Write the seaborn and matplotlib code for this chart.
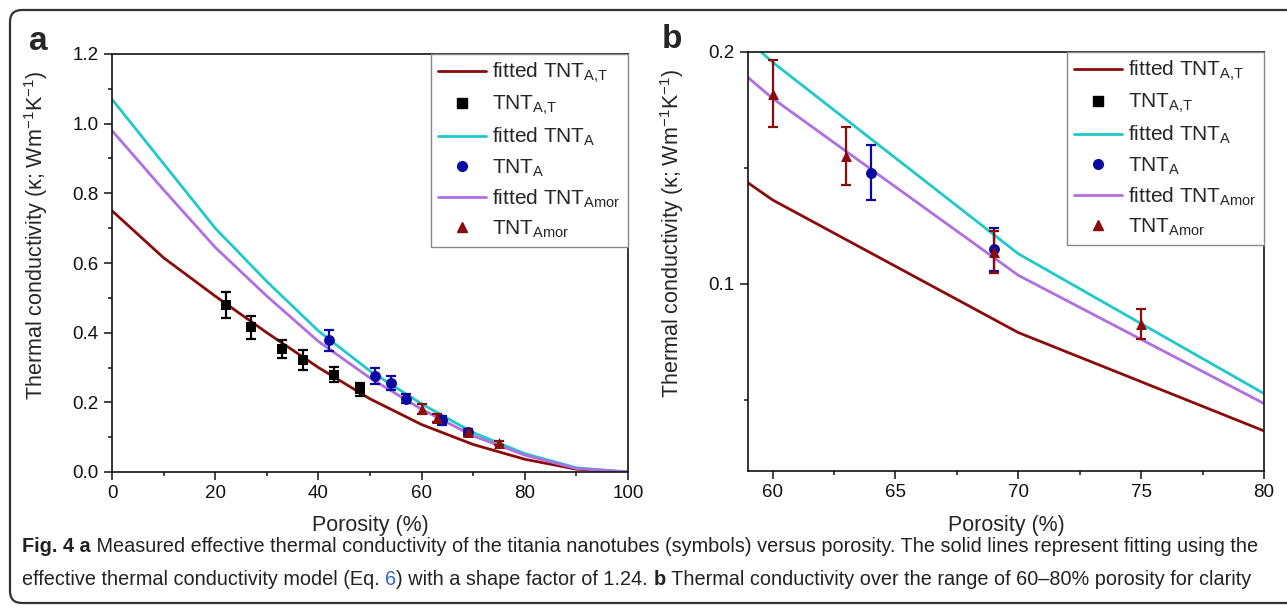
import numpy as np
import pandas as pd
import seaborn as sns
import matplotlib.pyplot as plt
from matplotlib.lines import Line2D
from matplotlib.patches import FancyBboxPatch
from matplotlib.ticker import MultipleLocator, FormatStrFormatter
from matplotlib.transforms import IdentityTransform
from matplotlib import font_manager

# fitted model curves (porosity in %, kappa in W/mK)
fit_porosity = [0, 10, 20, 30, 40, 50, 60, 70, 80, 90, 100]
fit_AT = [0.75, 0.615, 0.505, 0.40, 0.30, 0.21, 0.1362, 0.079, 0.0366, 0.008, 0.0]
fit_A = [1.07, 0.885, 0.70, 0.547, 0.405, 0.29, 0.1956, 0.113, 0.0527, 0.012, 0.0]
fit_Amor = [0.98, 0.81, 0.645, 0.505, 0.375, 0.27, 0.18, 0.1037, 0.0484, 0.01, 0.0]

# measured points
AT_x = [22, 27, 33, 37, 43, 48]
AT_y = [0.479, 0.415, 0.352, 0.322, 0.279, 0.237]
AT_err = [0.038, 0.033, 0.026, 0.028, 0.022, 0.018]
A_x = [42, 51, 54, 57, 64, 69]
A_y = [0.378, 0.276, 0.255, 0.211, 0.148, 0.115]
A_err = [0.031, 0.022, 0.021, 0.014, 0.012, 0.0093]
Amor_x = [60, 63, 69, 75]
Amor_y = [0.182, 0.155, 0.1136, 0.0826]
Amor_err = [0.0145, 0.0125, 0.009, 0.0065]

c_AT_line, c_AT_pt = '#8b0a0a', '#000000'
c_A_line, c_A_pt = '#1fc9c9', '#0a0aa0'
c_Amor_line, c_Amor_pt = '#b06ee0', '#8b0a0a'

sns.set_style('ticks')
plt.rcParams['font.family'] = ['Liberation Sans', 'DejaVu Sans']
plt.rcParams['mathtext.default'] = 'regular'

fit_df = pd.DataFrame({
    'porosity': fit_porosity * 3,
    'kappa': fit_AT + fit_A + fit_Amor,
    'sample': ['AT'] * 11 + ['A'] * 11 + ['Amor'] * 11,
})
series = [
    ('AT', AT_x, AT_y, AT_err, 's', c_AT_pt),
    ('A', A_x, A_y, A_err, 'o', c_A_pt),
    ('Amor', Amor_x, Amor_y, Amor_err, '^', c_Amor_pt),
]

fig = plt.figure(figsize=(12.87, 6.09), dpi=100)
ax_a = fig.add_axes([112 / 1287, 1 - 472 / 609, 516 / 1287, 418 / 609])
ax_b = fig.add_axes([748 / 1287, 1 - 471 / 609, 516 / 1287, 419 / 609])

for ax in (ax_a, ax_b):
    sns.lineplot(data=fit_df, x='porosity', y='kappa', hue='sample',
                 palette={'AT': c_AT_line, 'A': c_A_line, 'Amor': c_Amor_line},
                 estimator=None, sort=False, linewidth=2, legend=False, ax=ax)
    for name, xs, ys, es, mk, col in series:
        ax.errorbar(xs, ys, yerr=es, fmt='none', ecolor=col, elinewidth=1.6,
                    capsize=3.6, capthick=1.6, zorder=3)
        sns.scatterplot(x=xs, y=ys, marker=mk, color=col, s=62, linewidth=0,
                        ax=ax, zorder=4, legend=False)

    for sp in ax.spines.values():
        sp.set_visible(True)
        sp.set_linewidth(1.2)
        sp.set_color('#111111')
    ax.tick_params(which='major', direction='out', length=6, width=1.1,
                   labelsize=13.5, pad=3.5, colors='#111111')
    ax.tick_params(which='minor', direction='out', length=3, width=1.1, colors='#111111')
    ax.set_xlabel('Porosity (%)', fontsize=15.5)
    ax.set_ylabel('Thermal conductivity (\u03ba; Wm$^{-1}$K$^{-1}$)', fontsize=15.5)
    ax.xaxis.set_label_coords(0.5, -0.104)
    ax.yaxis.set_label_coords(-0.12, 0.567)

    handles = [
        Line2D([], [], color=c_AT_line, lw=2),
        Line2D([], [], color=c_AT_pt, marker='s', ls='none', ms=6.5),
        Line2D([], [], color=c_A_line, lw=2),
        Line2D([], [], color=c_A_pt, marker='o', ls='none', ms=7),
        Line2D([], [], color=c_Amor_line, lw=2),
        Line2D([], [], color=c_Amor_pt, marker='^', ls='none', ms=7.5),
    ]
    labels = ['fitted TNT$_{A{,}T}$', 'TNT$_{A{,}T}$', 'fitted TNT$_{A}$', 'TNT$_{A}$',
              'fitted TNT$_{Amor}$', 'TNT$_{Amor}$']
    leg = ax.legend(handles, labels, loc='upper right', borderaxespad=0,
                    fontsize=15, frameon=True, fancybox=False, framealpha=1,
                    edgecolor='#888888', handlelength=2.3, handletextpad=0.3,
                    labelspacing=0.42, borderpad=0.35)
    leg.get_frame().set_linewidth(1.0)

ax_a.set_xlim(0, 100)
ax_a.set_ylim(0, 1.2)
ax_a.xaxis.set_major_locator(MultipleLocator(20))
ax_a.xaxis.set_minor_locator(MultipleLocator(10))
ax_a.yaxis.set_major_locator(MultipleLocator(0.2))
ax_a.yaxis.set_minor_locator(MultipleLocator(0.1))
ax_a.yaxis.set_major_formatter(FormatStrFormatter('%.1f'))

ax_b.set_xlim(59, 80)
ax_b.set_ylim(0.0193, 0.2)
ax_b.xaxis.set_major_locator(MultipleLocator(5))
ax_b.xaxis.set_minor_locator(MultipleLocator(2.5))
ax_b.yaxis.set_major_locator(MultipleLocator(0.1))
ax_b.yaxis.set_minor_locator(MultipleLocator(0.05))
ax_b.yaxis.set_major_formatter(FormatStrFormatter('%.1f'))

fig.text(38 / 1287, 1 - 42 / 609, 'a', fontsize=24, fontweight='bold', ha='center', va='center')
fig.text(672 / 1287, 1 - 40 / 609, 'b', fontsize=24, fontweight='bold', ha='center', va='center')

# rounded frame around the figure + caption
fig.patches.append(FancyBboxPatch((10, 6), 1300, 593, boxstyle='round,pad=0,rounding_size=12',
                                  transform=IdentityTransform(), fill=False,
                                  edgecolor='#333333', linewidth=1.6))

names = {f.name for f in font_manager.fontManager.ttflist}
cap_family = 'Liberation Sans Narrow' if 'Liberation Sans Narrow' in names else 'Liberation Sans'
renderer = fig.canvas.get_renderer()

line1 = [('Fig. 4 a', 'bold', '#222222'),
         (' Measured effective thermal conductivity of the titania nanotubes (symbols) versus porosity. '
          'The solid lines represent fitting using the', 'normal', '#222222')]
line2 = [('effective thermal conductivity model (Eq. ', 'normal', '#222222'),
         ('6', 'normal', '#3366cc'),
         (') with a shape factor of 1.24. ', 'normal', '#222222'),
         ('b', 'bold', '#222222'),
         (' Thermal conductivity over the range of 60\u201380% porosity for clarity', 'normal', '#222222')]


def write_line(x, y, parts, size):
    for txt, weight, color in parts:
        t = fig.text(x, y, txt, transform=IdentityTransform(), fontsize=size,
                     fontweight=weight, color=color, family=cap_family, va='baseline')
        x = t.get_window_extent(renderer).x1
    return x


probe = fig.text(0, 0, ''.join(p[0] for p in line1), fontsize=10, family=cap_family)
w = probe.get_window_extent(renderer).width
probe.remove()
cap_size = 10 * 1232 / w

write_line(22, 609 - 552, line1, cap_size)
write_line(22, 609 - 585, line2, cap_size)

fig.savefig('out.png', dpi=100)
